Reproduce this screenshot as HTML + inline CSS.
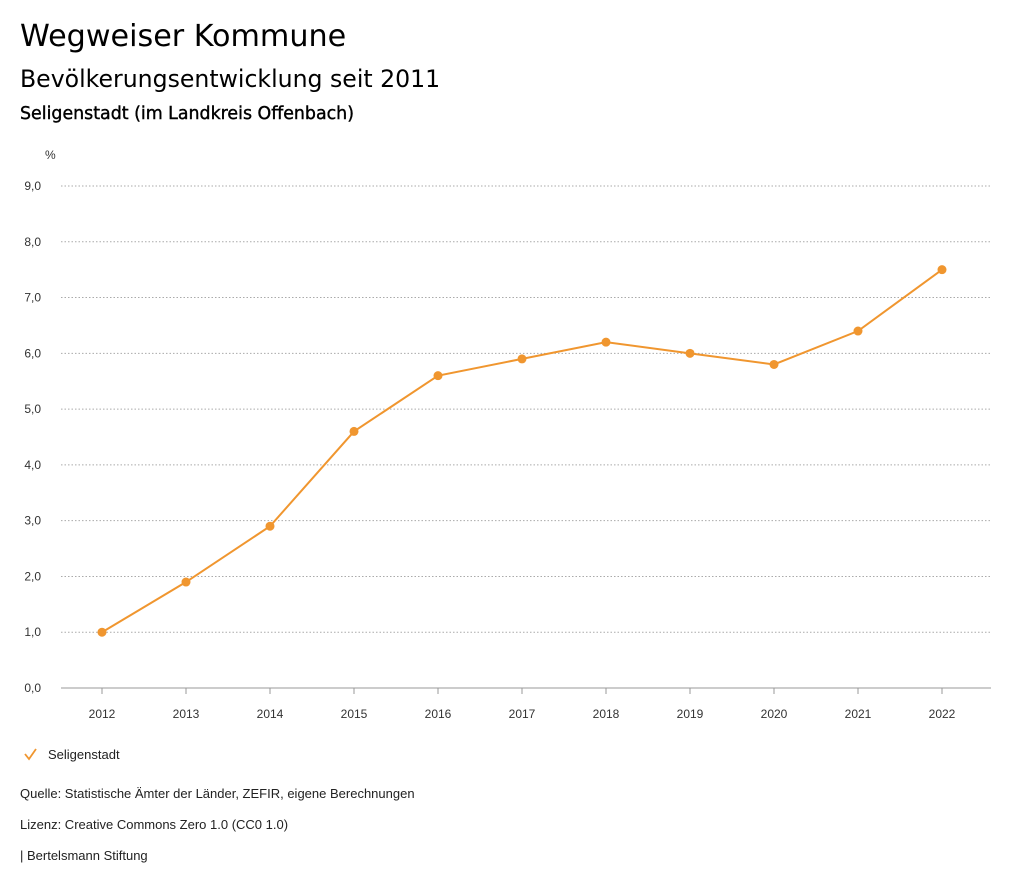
<!DOCTYPE html>
<html><head><meta charset="utf-8">
<style>
body{margin:0;width:1024px;height:888px;background:#fff;font-family:"Liberation Sans",sans-serif;color:#000;overflow:hidden;position:relative}
.t{position:absolute;white-space:nowrap}
.d{font-family:"DejaVu Sans",sans-serif}
</style></head><body>
<div class="t d" style="left:20px;top:19px;font-size:30.2px">Wegweiser Kommune</div>
<div class="t d" style="left:20px;top:65px;font-size:23.6px">Bevölkerungsentwicklung seit 2011</div>
<div class="t d" style="left:20px;top:104px;font-size:17.4px;-webkit-text-stroke:0.4px #000">Seligenstadt (im Landkreis Offenbach)</div>
<svg id="chart" width="1024" height="888" style="position:absolute;left:0;top:0"></svg>
<div class="t" style="left:20px;top:786px;font-size:13px;color:#222">Quelle: Statistische Ämter der Länder, ZEFIR, eigene Berechnungen</div>
<div class="t" style="left:20px;top:817px;font-size:13px;color:#222">Lizenz: Creative Commons Zero 1.0 (CC0 1.0)</div>
<div class="t" style="left:20px;top:848px;font-size:13px;color:#222">| Bertelsmann Stiftung</div>
<script>
const years=["2012","2013","2014","2015","2016","2017","2018","2019","2020","2021","2022"];
const values=[1.0,1.9,2.9,4.6,5.6,5.9,6.2,6.0,5.8,6.4,7.5];
const yTicks=[0,1,2,3,4,5,6,7,8,9];
const NS="http://www.w3.org/2000/svg";
const svg=document.getElementById('chart');
const x=i=>102+i*84;
const y=v=>688-v*(502/9);
function mk(t,a,p){const e=document.createElementNS(NS,t);for(const k in a)e.setAttribute(k,a[k]);(p||svg).appendChild(e);return e;}
const u=mk('text',{x:45,y:159,'font-size':12,fill:'#333'});u.textContent='%';


yTicks.forEach(v=>{
  const l=mk('line',{x1:61,x2:991,y1:y(v),y2:y(v),stroke:v===0?'#999':'#aaa','stroke-dasharray':v===0?'':'1.5,2','stroke-width':1});
  
  
  const t=mk('text',{x:41,y:y(v)+4,'font-size':12,'text-anchor':'end',fill:'#333'});
  t.textContent=v.toFixed(1).replace('.',',');
  
  
});
years.forEach((yr,i)=>{
  const tk=mk('line',{x1:x(i),x2:x(i),y1:688,y2:694,stroke:'#999'});
  
  
  const t=mk('text',{x:x(i),y:718,'font-size':12,'text-anchor':'middle',fill:'#333'});
  t.textContent=yr;
  
  
});
const p=mk('polyline',{points:values.map((v,i)=>x(i)+','+y(v)).join(' '),fill:'none',stroke:'#f0962f','stroke-width':2});


values.forEach((v,i)=>{
  const c=mk('circle',{cx:x(i),cy:y(v),r:4.5,fill:'#f0962f'});
  
  
});
const g=mk('g',{});


mk('polyline',{points:'25,754 29,759 36,749',fill:'none',stroke:'#f0962f','stroke-width':1.8},g);
const lt=mk('text',{x:48,y:759,'font-size':13,fill:'#222'},g);lt.textContent='Seligenstadt';
</script>
</body></html>
